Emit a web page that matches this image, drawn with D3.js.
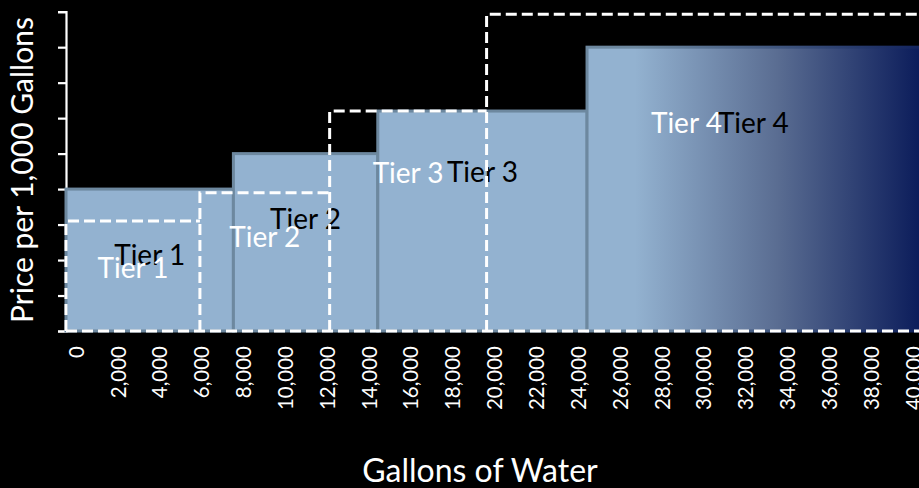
<!DOCTYPE html>
<html>
<head>
<meta charset="utf-8">
<script src="https://cdn.jsdelivr.net/npm/d3@7"></script>
<style>
  body { margin: 0; background: #000; }
  svg { display: block; }
</style>
</head>
<body>
<div id="chart"></div>
<script>
// tiers (filled bars = current rates)
var tierNames = ["Tier 1", "Tier 2", "Tier 3", "Tier 4"];
var tierStart = [0, 8000, 14900, 24900];
var tierEnd = [8000, 14900, 24900, 41000];
var tierPrice = [4, 5, 6.2, 8];
var tierLabelY = [1.86, 2.87, 4.21, 5.58];

// dashed outline tiers (proposed)
var altStart = [0, 6400, 12600, 20100];
var altEnd = [6400, 12600, 20100, 41000];
var altPrice = [3.1, 3.9, 6.2, 8.93];
var altLabelY = [1.49, 2.38, 4.17, 5.58];

var xTicks = d3.range(0, 40001, 2000);
var yTicks = d3.range(0, 10, 1);

var width = 919, height = 488;

var svg = d3.select("#chart")
    .append("svg")
    .attr("width", width)
    .attr("height", height);

var x = d3.scaleLinear().domain([0, 40000]).range([66, 903]);
var y = d3.scaleLinear().domain([0, 9]).range([331, 11.7]);

// gradient for the last tier
var defs = svg.append("defs");
var grad = defs.append("linearGradient")
    .attr("id", "tier4fill")
    .attr("gradientUnits", "userSpaceOnUse")
    .attr("x1", 635).attr("x2", 919).attr("y1", 0).attr("y2", 0);
grad.append("stop").attr("offset", "0").attr("stop-color", "#93b2d0");
grad.append("stop").attr("offset", "0.5").attr("stop-color", "#5a6d92");
grad.append("stop").attr("offset", "1").attr("stop-color", "#0c1d5b");
var grad2 = defs.append("linearGradient")
    .attr("id", "tier4stroke")
    .attr("gradientUnits", "userSpaceOnUse")
    .attr("x1", 635).attr("x2", 919).attr("y1", 0).attr("y2", 0);
grad2.append("stop").attr("offset", "0").attr("stop-color", "#6d889f");
grad2.append("stop").attr("offset", "1").attr("stop-color", "#13245e");

// y axis (no labels)
var yAxis = svg.append("g")
    .attr("transform", "translate(66,0)")
    .call(d3.axisLeft(y).tickValues(yTicks).tickFormat("").tickSize(8).tickSizeOuter(8));
yAxis.selectAll("path, line").attr("stroke", "#fff").attr("stroke-width", 2.2);

// x axis
var xAxis = svg.append("g")
    .attr("transform", "translate(0,331)")
    .call(d3.axisBottom(x).tickValues(xTicks).tickFormat(d3.format(",")).tickSize(0));
xAxis.select(".domain").remove();
xAxis.selectAll("text")
    .attr("transform", "rotate(-90)")
    .attr("x", -15)
    .attr("y", 10)
    .attr("dy", "0.35em")
    .style("text-anchor", "end")
    .style("font-family", "Lato")
    .style("font-size", "20.5px")
    .attr("fill", "#fff");

// bars
svg.selectAll("rect.tier")
    .data(tierNames)
    .enter()
    .append("rect")
    .attr("class", "tier")
    .attr("x", function (d, i) { return x(tierStart[i]); })
    .attr("y", function (d, i) { return y(tierPrice[i]); })
    .attr("width", function (d, i) { return x(tierEnd[i]) - x(tierStart[i]); })
    .attr("height", function (d, i) { return y(0) - y(tierPrice[i]); })
    .attr("fill", function (d, i) { return i == 3 ? "url(#tier4fill)" : "#93b2d0"; })
    .attr("stroke", function (d, i) { return i == 3 ? "url(#tier4stroke)" : "#6d889f"; })
    .attr("stroke-width", 3);

// black labels
svg.selectAll("text.tierlabel")
    .data(tierNames)
    .enter()
    .append("text")
    .attr("class", "tierlabel")
    .attr("x", function (d, i) { return x((tierStart[i] + Math.min(tierEnd[i], 40800)) / 2); })
    .attr("y", function (d, i) { return y(tierLabelY[i]); })
    .attr("text-anchor", "middle")
    .style("font-family", "Lato")
    .style("font-size", "28px")
    .attr("fill", "#000")
    .text(function (d) { return d; });

// dashed outlines: left side + top of each tier, one shared baseline
svg.selectAll("path.alt")
    .data(tierNames)
    .enter()
    .append("path")
    .attr("class", "alt")
    .attr("d", function (d, i) {
        return "M" + x(altStart[i]) + "," + y(0) +
            "V" + y(altPrice[i]) +
            "H" + x(altEnd[i]) +
            (i == tierNames.length - 1 ? "V" + y(0) : "");
    })
    .attr("fill", "none")
    .attr("stroke", "#fff")
    .attr("stroke-width", 3)
    .attr("stroke-dasharray", "11,5");

svg.append("path")
    .attr("class", "alt-base")
    .attr("d", "M" + x(0) + "," + y(0) + "H" + x(altEnd[altEnd.length - 1]))
    .attr("fill", "none")
    .attr("stroke", "#fff")
    .attr("stroke-width", 3)
    .attr("stroke-dasharray", "11,5");

// white labels
svg.selectAll("text.altlabel")
    .data(tierNames)
    .enter()
    .append("text")
    .attr("class", "altlabel")
    .attr("x", function (d, i) { return x((altStart[i] + Math.min(altEnd[i], 39200)) / 2); })
    .attr("y", function (d, i) { return y(altLabelY[i]); })
    .attr("text-anchor", "middle")
    .style("font-family", "Lato")
    .style("font-size", "28px")
    .attr("fill", "#fff")
    .text(function (d) { return d; });

// axis titles
svg.append("text")
    .attr("transform", "translate(33,170) rotate(-90)")
    .attr("text-anchor", "middle")
    .style("font-family", "Lato")
    .style("font-size", "30px")
    .attr("fill", "#fff")
    .text("Price per 1,000 Gallons");

svg.append("text")
    .attr("x", 480)
    .attr("y", 482)
    .attr("text-anchor", "middle")
    .style("font-family", "Lato")
    .style("font-size", "32px")
    .attr("fill", "#fff")
    .text("Gallons of Water");
</script>
</body>
</html>
